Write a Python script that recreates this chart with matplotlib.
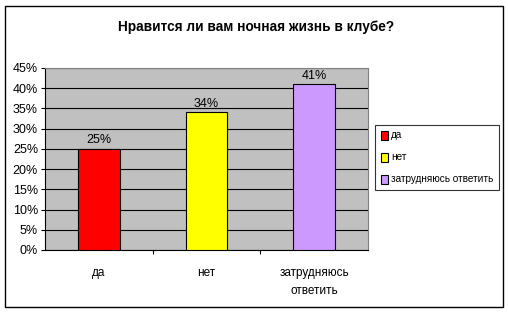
import matplotlib
matplotlib.use("Agg")
import matplotlib.pyplot as plt
from matplotlib.patches import Rectangle

categories = ["да", "нет", "затрудняюсь\nответить"]
legend_labels = ["да", "нет", "затрудняюсь ответить"]
values = [25, 34, 41]
colors = ["#FF0000", "#FFFF00", "#CC99FF"]
yticks = [0, 5, 10, 15, 20, 25, 30, 35, 40, 45]

plt.rcParams["font.family"] = ["Liberation Sans", "DejaVu Sans"]

W, H = 508, 312
fig = plt.figure(figsize=(W / 100, H / 100), dpi=100)

# outer border
fig.patches.append(Rectangle((5 / W, 1 - 307 / H), 498 / W, 301 / H,
                             transform=fig.transFigure, fill=False,
                             edgecolor="black", linewidth=1))

ax = fig.add_axes([45 / W, 1 - 250 / H, (368 - 45) / W, (250 - 68) / H])
ax.set_facecolor("#C0C0C0")
x = range(len(categories))
bars = ax.bar(x, values, width=0.39, color=colors, edgecolor="black",
              linewidth=0.8, zorder=3)
ax.set_xlim(-0.5, 2.5)
ax.set_ylim(0, 45)
ax.set_yticks(yticks)
ax.set_yticklabels([f"{v}%" for v in yticks], fontsize=9)
ax.yaxis.grid(True, color="black", linewidth=0.8, zorder=0)
ax.set_xticks([0.5, 1.5])
ax.set_xticklabels([])
ax.tick_params(axis="x", length=3, direction="out")
ax.tick_params(axis="y", length=3, direction="out", pad=2)
for i, c in enumerate(categories):
    ax.text(i, -4.3, c, ha="center", va="top", fontsize=8.5, linespacing=1.6)
for i, v in enumerate(values):
    ax.text(i, v + 0.6, f"{v}%", ha="center", va="bottom", fontsize=9)
for s in ["top", "right"]:
    ax.spines[s].set_color("#808080")
for s in ["left", "bottom"]:
    ax.spines[s].set_color("black")

fig.text(256 / W, 1 - 27 / H, "Нравится ли вам ночная жизнь в клубе?",
         ha="center", va="center", fontsize=9.8, fontweight="bold")

leg = fig.legend(bars, legend_labels, loc="upper right",
                 bbox_to_anchor=(499 / W, 1 - 125 / H), fontsize=7.2,
                 frameon=True, fancybox=False, edgecolor="black",
                 handlelength=0.75, handleheight=1.0, handletextpad=0.3,
                 labelspacing=1.2, borderpad=0.55, borderaxespad=0)
leg.get_frame().set_linewidth(0.8)

fig.savefig("out.png", dpi=100)
